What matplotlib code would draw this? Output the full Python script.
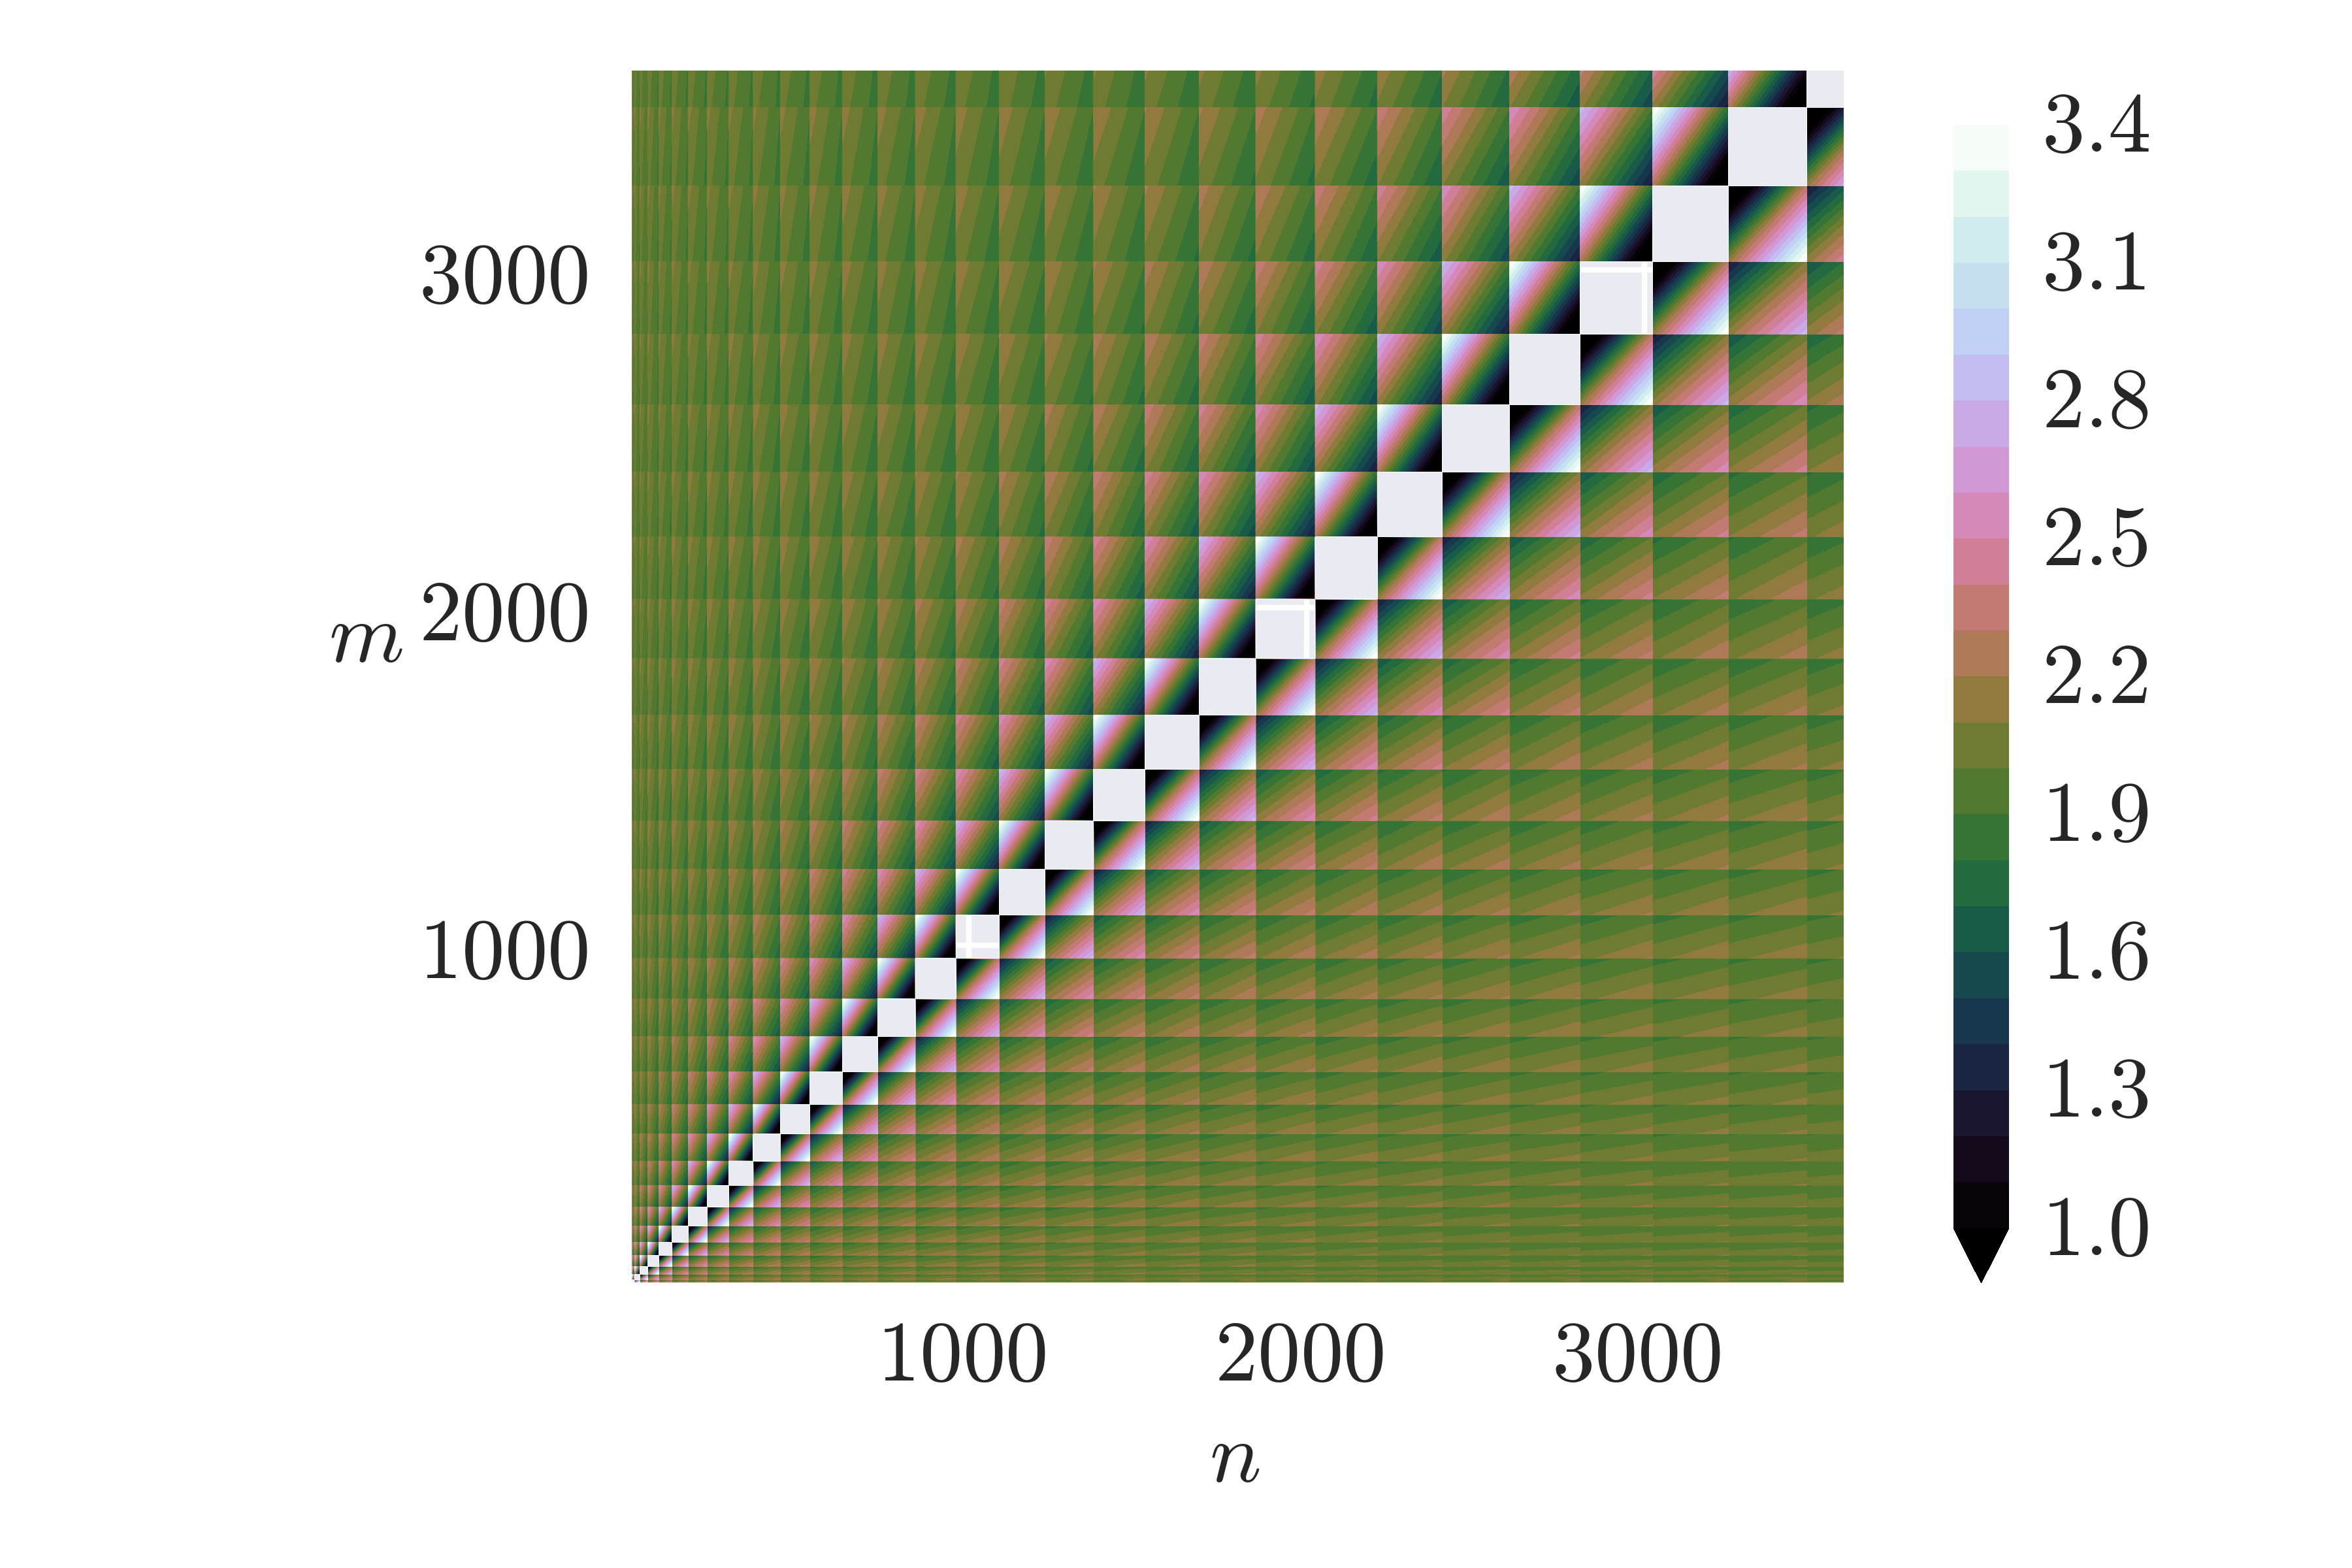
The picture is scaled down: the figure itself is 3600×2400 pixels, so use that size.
import matplotlib
matplotlib.use('Agg')
import matplotlib.pyplot as plt
from matplotlib.transforms import ScaledTranslation
import numpy as np

plt.rcParams['mathtext.fontset'] = 'cm'
plt.rcParams['font.size'] = 31.5

TEXT_COLOR = '#262626'

# block edges (x and y use the same ones)
block_edges = [1, 9, 25, 49, 81, 121, 169, 225, 289, 361, 441, 529, 625, 729, 841,
               961, 1089, 1225, 1369, 1521, 1681, 1849, 2025, 2209, 2401, 2601,
               2809, 3025, 3249, 3481, 3721]

# corner values of a block, by distance from the diagonal (last entry = further out)
# blocks right of the diagonal (n above m)
right_tl = [0.4, 1.25, 1.58, 1.7, 1.76, 1.78, 1.8, 1.8, 1.82, 1.83, 1.84, 1.85, 1.86, 1.87, 1.87, 1.88, 1.88, 1.88, 1.89, 1.89]
right_tr = [2.3, 2.1, 2.05, 2.0, 1.98, 1.97, 1.96, 1.96, 1.96, 1.95, 1.95, 1.95, 1.95, 1.94, 1.94, 1.94, 1.94, 1.93, 1.93, 1.93]
right_bl = [2.15, 2.15, 2.15, 2.12, 2.1, 2.08, 2.08, 2.08, 2.08, 2.08, 2.07, 2.07, 2.07, 2.06, 2.06, 2.06, 2.05, 2.05, 2.05, 2.05]
right_br = [3.45, 2.85, 2.58, 2.45, 2.35, 2.3, 2.27, 2.25, 2.23, 2.22, 2.21, 2.2, 2.18, 2.17, 2.16, 2.15, 2.14, 2.13, 2.12, 2.11]
# blocks left of the diagonal (m above n)
left_tl = [3.45, 2.85, 2.6, 2.48, 2.38, 2.3, 2.26, 2.22, 2.21, 2.2, 2.19, 2.18, 2.17, 2.17, 2.16, 2.15, 2.15, 2.14, 2.13, 2.13]
left_tr = [1.8, 1.9, 1.9, 1.9, 1.9, 1.9, 1.9, 1.9, 1.9, 1.9, 1.9, 1.9, 1.9, 1.9, 1.9, 1.9, 1.9, 1.9, 1.9, 1.9]
left_bl = [2.25, 2.15, 2.12, 2.1, 2.1, 2.08, 2.08, 2.06, 2.06, 2.05, 2.05, 2.05, 2.05, 2.04, 2.04, 2.04, 2.04, 2.03, 2.03, 2.03]
left_br = [0.5, 1.25, 1.5, 1.6, 1.68, 1.72, 1.75, 1.77, 1.79, 1.8, 1.81, 1.82, 1.83, 1.84, 1.84, 1.85, 1.85, 1.86, 1.86, 1.87]

levels = [1.0, 1.1, 1.2, 1.3, 1.4, 1.5, 1.6, 1.7, 1.8, 1.9, 2.0, 2.1, 2.2,
          2.3, 2.4, 2.5, 2.6, 2.7, 2.8, 2.9, 3.0, 3.1, 3.2, 3.3, 3.4]
cbar_ticks = [1.0, 1.3, 1.6, 1.9, 2.2, 2.5, 2.8, 3.1, 3.4]
axis_ticks = [1000, 2000, 3000]
diagonal_value = 4.0  # above the top level, stays unfilled


def block_corners(row, col):
    k = col - row
    if k == 0:
        return [diagonal_value] * 4
    if k > 0:
        i = min(k, len(right_tl)) - 1
        return right_tl[i], right_tr[i], right_bl[i], right_br[i]
    i = min(-k, len(left_tl)) - 1
    return left_tl[i], left_tr[i], left_bl[i], left_br[i]


n_blocks = len(block_edges) - 1
grid = []
for i in range(n_blocks):
    grid.append(block_edges[i])
    grid.append(block_edges[i + 1] - 0.5)
grid = np.array(grid, dtype=float)

Z = np.zeros((2 * n_blocks, 2 * n_blocks))
for r in range(n_blocks):
    for c in range(n_blocks):
        tl, tr, bl, br = block_corners(r, c)
        Z[2 * r + 1, 2 * c] = tl
        Z[2 * r + 1, 2 * c + 1] = tr
        Z[2 * r, 2 * c] = bl
        Z[2 * r, 2 * c + 1] = br

fig = plt.figure(figsize=(12, 8), dpi=300)
ax = fig.add_axes([967 / 3600, (2400 - 1963) / 2400, 1855 / 3600, 1855 / 2400])
ax.set_facecolor('#EAEAF2')
ax.grid(True, color='white', linewidth=2)
ax.set_axisbelow(True)
for spine in ax.spines.values():
    spine.set_visible(False)

cs = ax.contourf(grid, grid, Z, levels=levels, cmap='cubehelix', extend='min')

ax.set_xlim(1, 3590)
ax.set_ylim(1, 3590)
ax.set_xticks(axis_ticks)
ax.set_yticks(axis_ticks)
ax.set_xticklabels([f'${t}$' for t in axis_ticks], color=TEXT_COLOR)
ax.set_yticklabels([f'${t}$' for t in axis_ticks], color=TEXT_COLOR)
ax.tick_params(axis='x', length=0, pad=12)
ax.tick_params(axis='y', length=0, pad=16)
# the x tick labels sit a little left of their grid lines in the original
for label in ax.get_xticklabels():
    label.set_transform(label.get_transform() + ScaledTranslation(-12 / 300, 0, fig.dpi_scale_trans))

ax.set_xlabel('$n$', color=TEXT_COLOR, va='center')
ax.xaxis.set_label_coords(0.4976, -0.145)
ax.set_ylabel('$m$', color=TEXT_COLOR, rotation=0, va='center', ha='center')
ax.yaxis.set_label_coords(-0.2194, 0.532)

cax = fig.add_axes([2990 / 3600, (2400 - 1964) / 2400, 85 / 3600, 1773 / 2400])
cbar = fig.colorbar(cs, cax=cax, ticks=cbar_ticks)
cbar.outline.set_visible(False)
cbar.ax.set_yticklabels([f'${t:.1f}$' for t in cbar_ticks], color=TEXT_COLOR)
cbar.ax.tick_params(length=0, pad=12)
for label in cbar.ax.get_yticklabels():
    label.set_transform(label.get_transform() + ScaledTranslation(0, 9 / 300, fig.dpi_scale_trans))

fig.savefig('out.png', dpi=300, facecolor='white')
